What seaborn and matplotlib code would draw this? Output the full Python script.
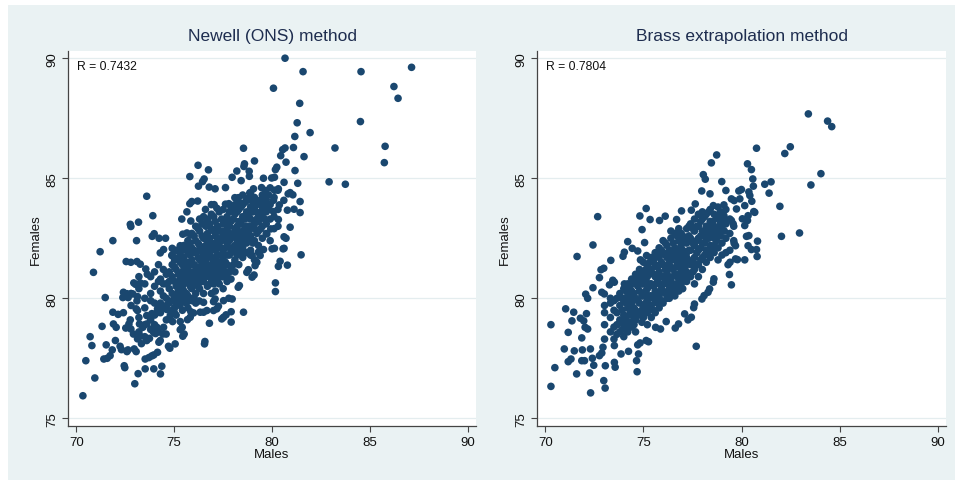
import matplotlib
matplotlib.use("Agg")
import matplotlib.pyplot as plt
import seaborn as sns
import pandas as pd

# ---------------- data ----------------
titles = ["Newell (ONS) method", "Brass extrapolation method"]
r_labels = ["R = 0.7432", "R = 0.7804"]
x_ticks = [70, 75, 80, 85, 90]
y_ticks = [75, 80, 85, 90]

newell_edge = [
    (80.66, 90.0), (81.58, 89.44), (84.54, 89.44), (87.12, 89.62), (80.07, 88.75),
    (86.22, 88.82), (86.43, 88.33), (81.41, 88.12), (81.28, 87.31), (84.51, 87.36),
    (81.94, 86.90), (81.16, 86.74), (83.21, 86.26), (85.77, 86.33), (81.09, 86.28),
    (80.66, 86.26), (80.54, 86.19), (81.63, 85.90), (80.44, 85.94), (80.71, 85.67),
    (85.73, 85.65), (78.54, 86.25), (82.91, 84.85), (83.74, 84.75), (79.10, 85.72),
    (78.59, 85.60), (78.56, 85.49), (80.24, 85.46), (80.17, 85.36), (81.17, 85.32),
    (80.61, 84.83), (81.31, 84.79), (79.98, 85.01), (80.12, 85.04), (79.56, 85.00),
    (78.83, 85.29), (78.84, 85.08), (78.20, 85.30), (77.96, 85.04), (78.42, 84.90),
    (76.75, 85.35), (76.22, 85.54), (75.80, 85.07), (76.53, 84.97), (76.45, 84.86),
    (76.24, 84.67), (76.79, 84.63), (77.09, 84.56), (77.62, 84.61), (79.05, 84.56),
    (79.46, 84.61), (79.66, 84.49), (80.12, 84.50), (80.32, 84.56), (78.86, 84.39),
    (80.82, 84.35), (80.92, 84.40), (81.06, 84.31), (80.07, 84.08), (80.60, 84.08),
    (81.43, 84.03), (78.10, 84.19), (78.28, 84.19), (78.72, 84.08), (77.62, 83.92),
    (77.79, 83.94), (75.80, 83.94), (75.90, 84.03), (76.20, 84.05), (75.65, 83.60),
    (76.60, 83.70), (76.90, 83.90), (77.04, 83.90), (77.18, 83.75), (73.60, 84.25),
    (73.91, 83.44), (72.76, 83.08), (72.79, 82.99), (73.18, 83.17), (71.87, 82.40),
    (71.22, 81.94), (70.88, 81.08), (71.48, 80.03), (73.08, 82.40), (73.88, 82.58),
    (73.98, 82.69), (74.23, 82.50), (74.56, 82.50), (74.46, 82.03), (74.29, 81.89),
    (74.90, 82.08), (75.31, 82.19), (75.39, 83.30), (75.85, 83.22), (75.65, 82.72),
    (75.44, 82.67), (75.85, 82.64), (74.88, 81.78), (72.55, 81.53), (72.79, 81.50),
    (73.10, 81.53), (73.27, 81.42), (73.55, 81.22), (73.63, 81.00), (72.94, 80.64),
    (73.03, 80.58), (73.27, 80.64), (72.41, 80.25), (72.59, 80.19), (72.38, 80.03),
    (72.65, 80.03), (72.89, 80.18), (73.13, 80.07), (73.10, 79.89), (73.06, 79.56),
    (73.13, 79.49), (71.87, 79.42), (72.14, 79.33), (72.41, 79.40), (71.32, 78.83),
    (71.90, 78.93), (72.04, 78.79), (72.76, 79.10), (72.69, 78.93), (72.53, 78.76),
    (72.79, 78.72), (72.92, 78.51), (73.13, 78.31), (73.27, 78.42), (70.71, 78.40),
    (70.80, 78.03), (70.49, 77.40), (70.95, 76.68), (70.34, 75.94), (71.53, 78.06),
    (72.00, 78.24), (71.84, 77.85), (71.41, 77.47), (71.58, 77.50), (71.73, 77.61),
    (72.24, 78.00), (72.31, 77.86), (72.64, 77.85), (72.59, 77.78), (72.96, 77.89),
    (73.06, 77.78), (72.45, 77.19), (72.48, 77.11), (73.16, 76.86), (72.99, 76.44),
    (73.52, 77.06), (73.52, 77.47), (73.71, 77.53), (73.86, 77.60), (73.96, 77.64),
    (74.15, 77.75), (73.96, 77.06), (74.37, 77.17), (74.30, 76.85), (73.33, 78.11),
    (73.60, 78.24), (73.74, 78.33), (74.29, 78.24), (74.22, 78.17), (74.71, 78.00),
    (74.78, 77.92), (75.05, 78.10), (75.44, 78.42), (75.51, 78.51), (74.42, 78.51),
    (74.59, 78.51), (73.95, 78.58), (74.05, 78.53), (74.46, 78.79), (73.86, 78.72),
    (74.12, 78.79), (73.60, 78.93), (73.40, 78.79), (73.23, 78.93), (73.60, 79.28),
    (73.86, 79.36), (74.05, 79.36), (74.15, 79.56), (74.29, 79.63), (74.63, 79.53),
    (74.80, 79.28), (75.00, 79.42), (74.92, 79.03), (74.76, 79.14), (75.31, 79.03),
    (75.41, 78.79), (75.31, 78.69), (75.82, 79.21), (75.68, 79.11), (76.33, 79.42),
    (76.50, 79.42), (75.85, 79.44), (75.99, 79.39), (76.57, 78.20), (76.55, 78.10),
    (76.80, 78.96), (77.43, 79.14), (77.52, 79.21), (77.65, 79.31), (77.91, 79.01),
    (77.91, 79.44), (78.54, 79.42), (76.67, 79.49), (77.01, 79.49), (77.18, 79.56),
    (77.26, 79.67), (76.28, 79.89), (76.50, 79.83), (77.01, 79.86), (77.09, 79.97),
    (77.52, 79.90), (77.79, 80.00), (77.96, 79.97), (78.33, 80.53), (78.27, 80.46),
    (78.98, 80.88), (79.08, 80.97), (78.71, 81.08), (78.79, 81.19), (79.22, 81.50),
    (79.13, 81.36), (78.98, 81.78), (79.56, 82.03), (80.00, 82.06), (80.12, 82.08),
    (80.56, 82.06), (80.61, 82.08), (80.71, 82.50), (80.61, 82.56), (80.92, 82.96),
    (80.32, 83.28), (79.93, 82.89), (79.73, 82.68), (80.07, 83.61), (80.37, 83.89),
    (80.78, 83.67), (81.12, 83.71), (81.43, 83.57), (81.48, 81.81), (80.78, 81.38),
    (80.41, 81.54), (80.32, 81.33), (80.17, 80.64), (80.17, 80.28), (79.39, 81.78),
    (79.30, 81.92), (78.84, 82.40), (78.45, 82.75), (78.32, 82.19), (78.45, 82.13),
    (78.13, 81.92),
]

newell_core = {
    72.8: [80.2, 79.7], 73.2: [80.4, 79.2, 78.6, 80.9],
    73.5: [80.0, 79.6, 78.9, 80.6, 78.4], 73.8: [80.2, 79.9, 79.1, 80.9, 78.7],
    74.0: [80.5, 79.3, 81.1, 78.9, 79.8], 74.2: [81.4, 80.7, 78.6],
    74.3: [79.8, 80.3, 79.4, 80.8], 74.6: [80.0, 80.6, 81.0, 79.7, 79.1],
    74.9: [80.2, 80.9, 81.4, 79.9, 79.5, 81.8], 75.1: [80.5, 81.2, 79.8, 80.1, 82.0, 79.3],
    75.3: [80.8, 81.5, 80.2, 79.7, 81.9, 80.5], 75.5: [80.3, 80.9, 81.7, 82.2, 79.9, 81.2, 80.6],
    75.7: [80.7, 81.3, 81.9, 80.1, 82.4, 80.9, 79.6], 75.9: [81.0, 81.6, 80.4, 82.1, 80.8, 82.7, 79.9],
    76.1: [81.3, 80.7, 81.9, 82.4, 80.2, 83.0, 81.0, 79.8],
    76.3: [81.6, 80.9, 82.2, 82.8, 81.2, 80.4, 83.3, 82.0],
    76.5: [81.8, 81.2, 82.5, 83.1, 80.7, 81.5, 82.0, 80.2, 83.4],
    76.7: [81.4, 82.0, 82.7, 81.0, 83.3, 80.5, 81.7, 82.3],
    76.9: [81.7, 82.3, 81.1, 82.9, 80.8, 83.5, 81.4, 80.2],
    77.1: [82.0, 81.3, 82.6, 83.2, 80.9, 81.7, 80.3, 82.3],
    77.3: [81.5, 82.2, 82.8, 81.0, 83.6, 80.6, 81.8],
    77.5: [81.2, 82.0, 82.6, 83.1, 80.9, 81.6, 83.7, 80.4],
    77.7: [81.4, 82.3, 82.9, 83.4, 81.0, 81.8, 80.7],
    77.9: [81.9, 82.5, 83.2, 80.8, 82.1, 83.8, 81.3],
    78.1: [82.2, 82.9, 83.5, 81.6, 81.1, 82.6, 83.9],
    78.3: [82.5, 83.2, 81.9, 83.7, 82.0, 81.4, 84.0],
    78.5: [82.8, 83.4, 82.1, 83.9, 81.7, 82.4, 84.3],
    78.7: [83.0, 82.3, 83.6, 81.9, 84.1, 82.7],
    78.9: [83.3, 82.6, 83.8, 81.8, 84.4, 82.0],
    79.1: [83.1, 83.7, 82.4, 84.2, 82.9, 81.6],
    79.3: [83.5, 82.8, 84.0, 82.2, 83.2],
    79.5: [83.8, 83.0, 82.5, 84.3, 83.4],
    79.7: [83.6, 82.7, 84.1, 83.1],
    79.9: [83.9, 83.3, 82.4, 84.6],
    80.1: [84.2, 83.4, 82.9],
    80.3: [84.5, 83.7, 83.0],
}

newell_core2 = {
    74.45: [80.1, 80.6, 79.6, 81.2], 74.75: [80.4, 79.8, 81.1, 80.7],
    75.02: [80.0, 80.7, 81.3, 79.6, 81.6], 75.22: [80.3, 81.0, 79.9, 81.7, 80.6],
    75.42: [80.5, 81.1, 81.4, 80.0, 82.0, 79.5], 75.62: [80.8, 81.5, 80.2, 82.1, 81.1, 79.8],
    75.82: [81.1, 81.8, 80.5, 82.3, 80.0, 81.4], 76.02: [81.4, 82.0, 80.6, 82.6, 81.1, 80.0],
    76.22: [81.7, 82.3, 81.0, 80.5, 82.9, 81.3], 76.42: [82.0, 81.4, 82.6, 83.1, 80.7, 81.1],
    76.62: [82.2, 81.6, 83.0, 80.9, 82.6, 81.2], 76.82: [82.5, 81.9, 83.1, 81.2, 80.6, 82.1],
    77.02: [82.2, 81.5, 82.8, 83.4, 81.0, 80.6], 77.22: [82.5, 81.8, 83.0, 81.2, 82.1, 80.8],
    77.42: [81.8, 82.4, 83.3, 81.3, 80.9, 82.8], 77.62: [82.1, 82.7, 81.5, 83.2, 81.1, 82.5],
    77.82: [82.4, 83.0, 81.8, 83.6, 81.1, 82.7], 78.02: [82.7, 83.3, 82.0, 81.4, 83.7],
    78.22: [83.0, 82.4, 83.6, 81.8, 82.8], 78.42: [83.1, 82.6, 83.8, 81.9, 82.3],
    78.62: [83.3, 82.9, 84.0, 82.5], 78.82: [83.5, 82.8, 84.2, 83.0],
    79.02: [83.6, 83.0, 82.3, 84.0], 79.22: [83.9, 83.3, 82.7],
    79.42: [84.1, 83.6, 82.9], 79.62: [83.9, 83.3], 79.82: [84.3, 83.7],
}

brass_edge = [
    (83.40, 87.68), (84.38, 87.38), (84.59, 87.15), (80.76, 86.25), (82.48, 86.31),
    (82.20, 86.03), (78.73, 85.97), (78.46, 85.64), (80.30, 85.60), (80.50, 85.36),
    (84.04, 85.19), (78.05, 85.15), (78.15, 84.96), (80.57, 84.97), (81.18, 84.75),
    (81.50, 84.85), (83.53, 84.72), (78.99, 84.86), (79.20, 84.49), (77.97, 84.47),
    (78.39, 84.35), (80.60, 84.67), (81.40, 84.38), (79.86, 84.47), (79.99, 84.53),
    (80.37, 84.43), (80.42, 84.28), (80.52, 84.04), (80.62, 83.61), (81.95, 83.83),
    (82.95, 82.72), (82.03, 82.58), (80.81, 82.38), (80.76, 82.03), (80.79, 81.74),
    (80.16, 81.60), (77.64, 83.93), (77.44, 83.67), (76.94, 83.64), (75.14, 83.74),
    (74.82, 83.43), (75.34, 83.28), (76.11, 83.42), (75.82, 83.24), (76.69, 83.28),
    (74.93, 82.86), (75.06, 82.32), (74.20, 82.36), (72.67, 83.40), (72.43, 82.22),
    (71.62, 81.74), (73.34, 81.58), (74.03, 81.92), (73.96, 81.75), (74.43, 82.08),
    (74.71, 81.97), (74.85, 81.60), (75.16, 81.78), (72.84, 81.19), (72.98, 81.25),
    (72.76, 80.86), (73.44, 80.75), (73.52, 80.67), (73.27, 80.56), (74.03, 80.60),
    (72.43, 80.44), (72.06, 80.17), (72.16, 80.00), (72.88, 80.25), (73.01, 80.18),
    (71.04, 79.56), (71.45, 79.42), (72.10, 79.36), (70.29, 78.90), (71.36, 79.06),
    (71.79, 79.17), (71.96, 79.06), (71.17, 78.58), (72.03, 78.79), (72.16, 78.72),
    (71.86, 78.35), (70.97, 77.89), (71.48, 77.81), (71.89, 77.85), (71.17, 77.36),
    (71.31, 77.47), (71.86, 77.40), (72.00, 77.40), (70.49, 77.11), (71.60, 76.85),
    (70.29, 76.33), (72.26, 76.89), (72.31, 76.06), (72.40, 77.50), (72.47, 77.21),
    (72.30, 77.89), (72.98, 76.57), (73.05, 76.26), (73.06, 77.19), (73.52, 77.33),
    (73.56, 77.13), (72.76, 77.61), (72.88, 77.72), (72.94, 77.96), (73.52, 78.03),
    (73.86, 77.68), (74.24, 77.79), (74.65, 77.40), (74.68, 76.94), (74.75, 77.68),
    (74.71, 78.06), (74.83, 78.14), (75.14, 78.24), (75.26, 78.19), (75.87, 78.72),
    (75.62, 78.79), (76.16, 79.03), (76.62, 78.76), (76.79, 78.93), (77.27, 79.10),
    (77.44, 79.21), (77.10, 79.35), (77.69, 78.00), (77.56, 79.61), (77.60, 79.76),
    (77.98, 79.97), (78.09, 80.11), (78.29, 80.25), (78.37, 80.39), (78.56, 80.67),
    (78.59, 80.81), (79.48, 80.56), (79.38, 80.99), (79.31, 81.40), (79.41, 81.50),
    (79.69, 81.64), (79.79, 81.61), (79.69, 82.19), (79.62, 82.29), (80.33, 82.19),
    (80.50, 82.03), (80.37, 82.61), (80.25, 82.58), (80.16, 83.03), (80.30, 83.24),
    (80.33, 83.44), (80.04, 83.31), (80.67, 83.58), (79.74, 83.72), (79.48, 84.14),
    (79.62, 84.07), (79.91, 84.14), (80.16, 83.86), (79.10, 83.89), (78.56, 83.86),
    (78.97, 83.58), (79.10, 83.44), (79.48, 83.24), (79.57, 83.10),
]

brass_core = {
    73.5: [79.5, 78.8, 79.9, 78.3], 73.8: [79.7, 79.1, 78.6, 80.2],
    74.0: [79.3, 78.9, 79.9, 78.4, 80.4], 74.2: [79.6, 80.1, 79.0, 78.6, 80.6],
    74.4: [79.8, 80.3, 79.3, 78.8, 80.8], 74.6: [80.0, 79.5, 80.6, 79.1, 81.0, 78.6],
    74.8: [80.3, 79.8, 80.8, 79.3, 81.2], 75.0: [80.1, 80.6, 79.6, 81.1, 79.2, 81.5],
    75.2: [80.4, 79.9, 80.9, 81.4, 79.4, 78.9], 75.4: [80.6, 80.1, 81.2, 79.7, 81.7, 79.2],
    75.6: [80.3, 80.9, 81.4, 79.9, 81.9, 79.4], 75.8: [80.6, 81.1, 80.1, 81.7, 79.6, 82.1],
    76.0: [80.9, 81.4, 80.3, 81.9, 79.8, 82.4, 80.6], 76.2: [81.1, 80.6, 81.7, 82.2, 80.0, 81.3],
    76.4: [81.3, 80.8, 81.9, 82.5, 80.2, 82.8, 81.6], 76.6: [81.0, 81.6, 82.1, 80.5, 82.7, 80.1],
    76.8: [81.3, 81.8, 80.7, 82.4, 80.3, 82.9, 81.0], 77.0: [81.5, 82.0, 80.9, 82.6, 80.4, 81.2],
    77.2: [81.7, 81.1, 82.3, 80.7, 82.9, 81.9], 77.4: [81.4, 82.0, 82.5, 80.9, 83.1],
    77.6: [81.7, 82.2, 81.2, 82.8, 80.6, 83.3], 77.8: [82.0, 82.5, 81.4, 83.0, 80.9, 83.5],
    78.0: [82.3, 81.7, 82.8, 83.3, 81.2, 83.6], 78.2: [82.5, 82.0, 83.0, 81.5, 83.5, 82.7],
    78.4: [82.2, 82.8, 83.2, 81.7, 83.7], 78.6: [82.5, 83.0, 81.9, 83.5, 82.2],
    78.8: [82.7, 83.3, 82.1, 81.6, 83.8], 79.0: [82.9, 82.3, 83.5, 81.8],
    79.2: [83.1, 82.5, 83.7, 81.9], 79.4: [82.7, 83.3, 82.0], 79.6: [83.0, 82.4],
}

brass_core2 = {
    73.02: [79.4, 78.9, 79.7, 78.3], 73.32: [79.2, 79.8, 78.6, 80.0],
    73.65: [79.4, 78.9, 80.0, 78.5], 73.92: [79.5, 80.0, 79.0, 78.7],
    74.12: [79.8, 80.3, 79.2, 78.8], 74.32: [80.0, 79.4, 80.5, 79.0],
    74.52: [79.6, 80.2, 80.7, 79.2, 78.9], 74.72: [79.9, 80.5, 80.9, 79.4],
    74.92: [80.1, 80.6, 79.5, 81.0, 79.0], 75.12: [80.3, 80.8, 79.8, 81.2, 79.4],
    75.32: [80.1, 80.6, 81.1, 79.6, 81.5], 75.52: [80.5, 80.0, 81.0, 81.6, 79.5],
    75.72: [80.7, 80.2, 81.3, 81.8, 79.8], 75.92: [80.4, 80.9, 81.5, 79.9, 82.0],
    76.12: [80.7, 81.2, 81.8, 80.2, 82.3], 76.32: [80.9, 81.5, 80.4, 82.0, 80.0],
    76.52: [81.2, 81.8, 80.6, 82.3, 80.3], 76.72: [81.4, 80.9, 82.0, 82.6, 80.5],
    76.92: [81.6, 81.1, 82.2, 80.6, 82.7], 77.12: [81.8, 81.3, 82.4, 80.8],
    77.32: [82.0, 81.5, 82.6, 81.0, 83.0], 77.52: [82.3, 81.6, 82.9, 81.1],
    77.72: [82.4, 81.9, 83.0, 81.4], 77.92: [82.6, 82.1, 83.2, 81.6],
    78.12: [82.8, 82.3, 83.4, 81.8], 78.32: [83.0, 82.5, 81.9, 83.6],
    78.52: [82.7, 83.2, 82.0], 78.72: [82.9, 83.4, 82.4],
    78.92: [83.1, 82.6, 83.6], 79.12: [83.3, 82.8],
}


def build(edge, *cores):
    rows = list(edge)
    for core in cores:
        for xv, ys in core.items():
            rows.extend((xv, yv) for yv in ys)
    return pd.DataFrame(rows, columns=["Males", "Females"])


frames = [build(newell_edge, newell_core, newell_core2),
          build(brass_edge, brass_core, brass_core2)]

# ---------------- styling ----------------
sns.set_theme(style="white")
plt.rcParams["font.family"] = ["Liberation Sans", "DejaVu Sans"]

W, H = 958, 485
fig = plt.figure(figsize=(W / 100, H / 100), dpi=100, facecolor="white")
bg = "#EAF2F3"
bg_ax = fig.add_axes([8 / W, 1 - 481 / H, (955 - 8) / W, (481 - 6) / H], zorder=-10)
bg_ax.set_facecolor(bg)
bg_ax.set_xticks([])
bg_ax.set_yticks([])
for sp in bg_ax.spines.values():
    sp.set_visible(False)

axes_px = [(68, 52, 476, 427), (537, 52, 946, 427)]
dot = "#1A476F"
title_col = "#1E2D4F"

for i, (x0, y0, x1, y1) in enumerate(axes_px):
    ax = fig.add_axes([x0 / W, 1 - y1 / H, (x1 - x0) / W, (y1 - y0) / H], zorder=1)
    ax.set_facecolor("white")
    for yv in y_ticks:
        ax.axhline(yv, color="#E4EDEF", lw=0.9, zorder=0)
    sns.scatterplot(data=frames[i], x="Males", y="Females", ax=ax, color=dot,
                    s=30, edgecolor="none", linewidth=0, zorder=3)
    ax.set_xlim(69.58, 90.41)
    ax.set_ylim(74.68, 90.30)
    ax.set_xticks(x_ticks)
    ax.set_yticks(y_ticks)
    ax.set_yticklabels([str(v) for v in y_ticks], rotation=90, va="center")
    ax.tick_params(axis="both", direction="out", length=4.5, width=0.8,
                   color="#444444", labelsize=9.5, labelcolor="#111111", pad=2.5,
                   bottom=True, left=True)
    for side in ["top", "right"]:
        ax.spines[side].set_visible(False)
    for side in ["left", "bottom"]:
        ax.spines[side].set_color("#444444")
        ax.spines[side].set_linewidth(0.9)
    ax.set_xlabel("Males", fontsize=9.5, color="#111111", labelpad=0.5)
    ax.set_ylabel("Females", fontsize=9.5, color="#111111", labelpad=3)
    ax.set_title(titles[i], fontsize=12.5, color=title_col, pad=8)
    ax.text(70.03, 89.69, r_labels[i], fontsize=8.7, color="#111111",
            ha="left", va="center", zorder=4)

fig.savefig("out.png", dpi=100, facecolor="white")
